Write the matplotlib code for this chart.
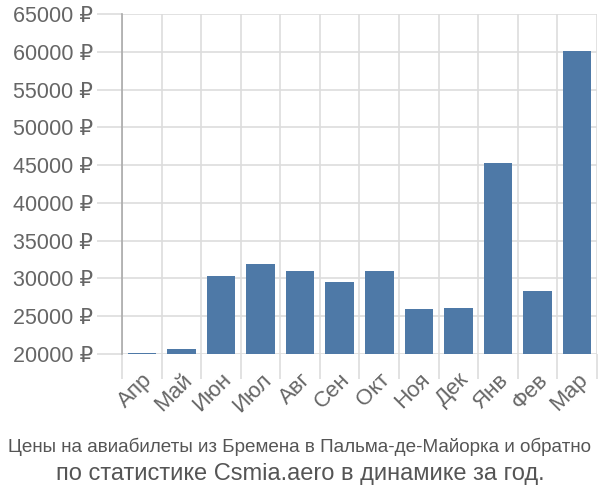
import matplotlib
matplotlib.use('Agg')
import matplotlib.pyplot as plt
import numpy as np

# данные
months = ['Апр', 'Май', 'Июн', 'Июл', 'Авг', 'Сен', 'Окт', 'Ноя', 'Дек', 'Янв', 'Фев', 'Мар']
prices = [20100, 20700, 30300, 31900, 31000, 29500, 31000, 26000, 26100, 45300, 28300, 60100]
y_ticks = [20000, 25000, 30000, 35000, 40000, 45000, 50000, 55000, 60000, 65000]
title_lines = ['Цены на авиабилеты из Бремена в Пальма-де-Майорка и обратно',
               'по статистике Csmia.aero в динамике за год.']

plt.rcParams['font.family'] = ['Liberation Sans', 'DejaVu Sans']

BAR_COLOR = '#4e79a7'
GRID_COLOR = '#dddddd'
TEXT_COLOR = '#666666'

fig = plt.figure(figsize=(6, 5), dpi=100)
ax = fig.add_axes([0.2033, 0.292, 0.7917, 0.680])

x = np.arange(len(months))
base = y_ticks[0]
ax.bar(x, [p - base for p in prices], bottom=base, width=0.72,
       color=BAR_COLOR, zorder=3)

ax.set_xlim(-0.5, len(months) - 0.5)
ax.set_ylim(y_ticks[0], y_ticks[-1])

# сетка
ax.set_yticks(y_ticks)
ax.set_yticklabels([f'{v} ₽' for v in y_ticks], fontsize=15.5, color=TEXT_COLOR)
ax.yaxis.grid(True, color=GRID_COLOR, linewidth=1.2, zorder=0)
ax.tick_params(axis='y', length=18, color=GRID_COLOR, width=1.2, pad=3)

# вертикальные линии на границах категорий
bounds = np.arange(len(months) + 1) - 0.5
ax.set_xticks(bounds, minor=True)
ax.xaxis.grid(True, which='minor', color=GRID_COLOR, linewidth=1.2, zorder=0)
ax.tick_params(axis='x', which='minor', length=18, color=GRID_COLOR, width=1.2)
ax.set_xticks(x)
ax.set_xticklabels(months, rotation=45, ha='right', rotation_mode='anchor',
                   fontsize=16, color=TEXT_COLOR)
ax.tick_params(axis='x', which='major', length=0, pad=11)

for s in ['top', 'right', 'bottom']:
    ax.spines[s].set_visible(False)
ax.spines['left'].set_color('#aaaaaa')
ax.spines['left'].set_linewidth(1.2)
ax.spines['left'].set_bounds(y_ticks[0], y_ticks[-1])

fig.text(0.5, 0.106, title_lines[0], ha='center', va='center', fontsize=13.6, color='#555555')
fig.text(0.5, 0.052, title_lines[1], ha='center', va='center', fontsize=17, color='#555555')

plt.savefig('out.png', dpi=100, facecolor='white')
plt.close(fig)
